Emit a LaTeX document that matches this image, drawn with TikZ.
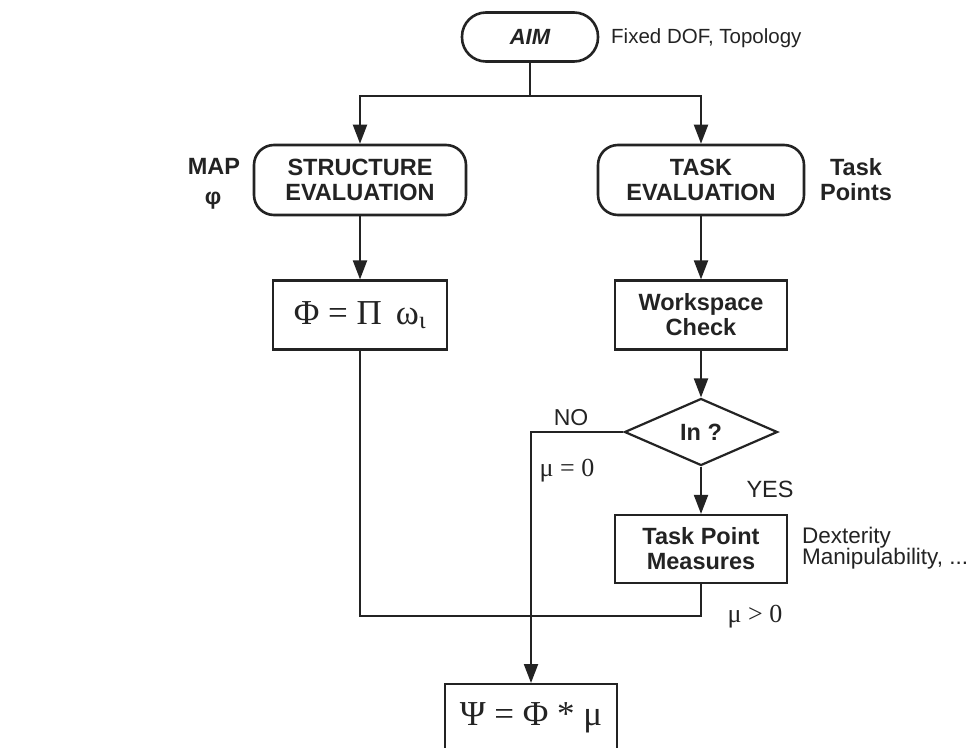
\documentclass[tikz,border=0pt]{standalone}
\usepackage{fontspec}
\setmainfont{Liberation Sans}
\newfontfamily\mathserif{Liberation Serif}
\usetikzlibrary{arrows.meta,shapes.geometric}
\definecolor{ink}{HTML}{232323}
\begin{document}
\begin{tikzpicture}[x=1pt,y=-1pt,
  boxfont/.style={font=\fontsize{23.5}{25}\selectfont\bfseries},
  rbox/.style={draw=ink, line width=2.6pt, rounded corners=20pt, inner sep=0pt, align=center, boxfont, text=ink},
  sbox/.style={draw=ink, line width=2.2pt, inner sep=0pt, align=center, text=ink},
  conn/.style={draw=ink, line width=2pt},
  arr/.style={conn, -{Triangle[length=19pt,width=14pt]}},
  lab/.style={text=ink, inner sep=0pt}
]
\clip (0,0) rectangle (973,747);
\fill[white] (0,0) rectangle (973,747);

% nodes
\node[rbox, minimum width=136pt, minimum height=49pt, rounded corners=24pt,
      font=\fontsize{22}{24}\selectfont\bfseries\itshape] (aim) at (530,37) {AIM};
\node[lab, anchor=west, font=\fontsize{20.5}{22}\selectfont] (dof) at (611,38) {Fixed DOF, Topology};

\node[rbox, minimum width=212pt, minimum height=70pt] (str) at (360,180) {STRUCTURE\\EVALUATION};
\node[rbox, minimum width=206pt, minimum height=70pt] (task) at (701,180) {TASK\\EVALUATION};
\node[lab, boxfont] (map) at (214,166) {MAP};
\node[lab, font=\fontsize{23}{24}\selectfont\bfseries] (phiz) at (213,201) {φ};
\node[lab, boxfont, align=center] (tp) at (856,180) {Task\\Points};

\node[sbox, minimum width=174pt, minimum height=69pt, font=\mathserif\fontsize{35}{36}\selectfont] (phi) at (360,315)
  {Φ = Π\hspace{14pt}ω\textsubscript{ι}};
\node[sbox, minimum width=172pt, minimum height=69pt, boxfont] (ws) at (701,315) {Workspace\\Check};
\node[draw=ink, line width=2.2pt, diamond, aspect=2.3, minimum width=153pt, minimum height=67pt,
      inner sep=0pt, boxfont, text=ink] (in) at (701,432) {In ?};
\node[sbox, minimum width=172pt, minimum height=68pt, boxfont] (tpm) at (701,549) {Task Point\\Measures};
\node[lab, anchor=west, align=left, font=\fontsize{22.5}{21}\selectfont] (dex) at (802,548) {Dexterity\\Manipulability, ...};

\node[lab, font=\fontsize{23}{24}\selectfont] (no) at (571,418) {NO};
\node[lab, font=\fontsize{23.5}{24}\selectfont] (yes) at (770,489) {YES};
\node[lab, font=\mathserif\fontsize{26}{28}\selectfont] (mu0) at (567,471) {μ = 0};
\node[lab, font=\mathserif\fontsize{26}{28}\selectfont] (mu1) at (755,617) {μ > 0};

\node[sbox, minimum width=172pt, minimum height=68pt, anchor=north,
      font=\mathserif\fontsize{35}{36}\selectfont] (psi) at (531,683) {Ψ = Φ * μ};

% connectors
\coordinate (split) at (530,96);
\coordinate (join) at (531,616);
\draw[conn] (aim.south) -- (split);
\draw[arr] (split) -| (str.north);
\draw[arr] (split) -| (task.north);
\draw[arr] (str.south) -- (phi.north);
\draw[arr] (task.south) -- (ws.north);
\draw[arr] (ws.south) -- (in.north);
\draw[arr] (in.south) -- (tpm.north);
\draw[arr] (in.west) -| (psi.north);
\draw[conn] (phi.south) |- (join) -| (tpm.south);
\end{tikzpicture}
\end{document}
